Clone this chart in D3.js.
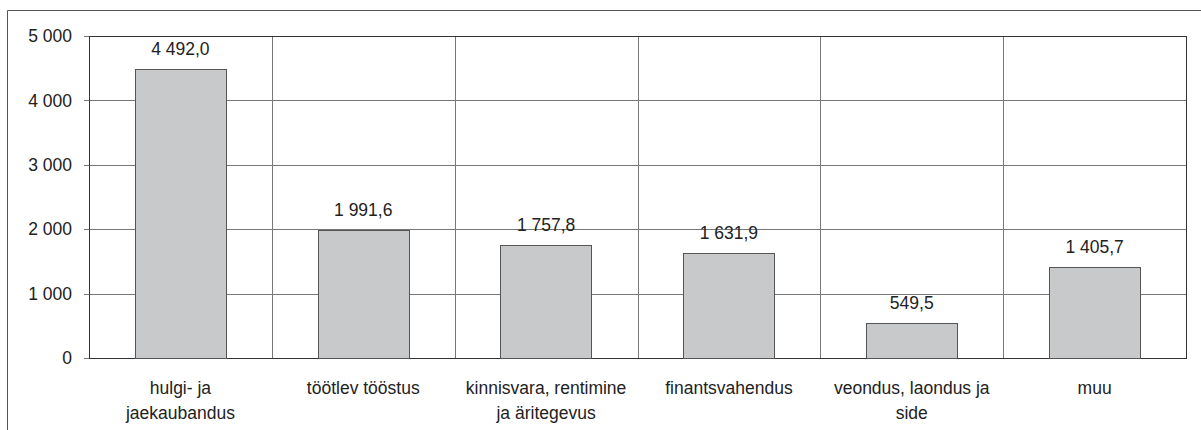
<!DOCTYPE html>
<html>
<head>
<meta charset="utf-8">
<script src="https://d3js.org/d3.v7.min.js"></script>
<style>
    body { margin: 0; background: white; }
    text { font-family: "Liberation Sans", Arial, sans-serif; fill: #222; font-size: 17.5px; }
</style>
</head>
<body>
<script>
    // data
    let categories = [
        ["hulgi- ja", "jaekaubandus"],
        ["töötlev tööstus"],
        ["kinnisvara, rentimine", "ja äritegevus"],
        ["finantsvahendus"],
        ["veondus, laondus ja", "side"],
        ["muu"]
    ];
    let values = [4492.0, 1991.6, 1757.8, 1631.9, 549.5, 1405.7];
    let yTicks = [0, 1000, 2000, 3000, 4000, 5000];

    var width = 1201, height = 430;
    var margin = {top: 36, right: 15, bottom: 72, left: 89};

    let svg = d3.select("body").append("svg")
        .attr("width", width)
        .attr("height", height);

    // outer frame (top + left edge only visible)
    svg.append("line")
        .attr("x1", 7.5).attr("y1", 10.5).attr("x2", width).attr("y2", 10.5)
        .attr("stroke", "#555");
    svg.append("line")
        .attr("x1", 7.5).attr("y1", 10.5).attr("x2", 7.5).attr("y2", height)
        .attr("stroke", "#555");

    let x = d3.scaleBand()
        .domain(d3.range(categories.length))
        .range([margin.left, width - margin.right])
        .paddingInner(0)
        .paddingOuter(0);

    let y = d3.scaleLinear()
        .domain([0, 5000])
        .range([height - margin.bottom, margin.top]);

    let fmt = function(v, dec) {
        let s = d3.format("," + (dec ? ".1f" : "d"))(v);
        return s.replace(/,/g, " ").replace(".", ",");
    };

    let g = svg.append("g");

    // horizontal gridlines
    g.selectAll(".hgrid")
        .data(yTicks)
        .enter()
        .append("line")
        .attr("x1", margin.left - 5)
        .attr("x2", width - margin.right)
        .attr("y1", d => Math.round(y(d)) + 0.5)
        .attr("y2", d => Math.round(y(d)) + 0.5)
        .attr("stroke", "#777");

    // vertical gridlines at category boundaries
    g.selectAll(".vgrid")
        .data(d3.range(1, categories.length))
        .enter()
        .append("line")
        .attr("x1", d => Math.round(x(d)) + 0.5)
        .attr("x2", d => Math.round(x(d)) + 0.5)
        .attr("y1", margin.top)
        .attr("y2", height - margin.bottom)
        .attr("stroke", "#777");

    // plot border
    g.append("rect")
        .attr("x", margin.left + 0.5)
        .attr("y", margin.top + 0.5)
        .attr("width", width - margin.right - margin.left)
        .attr("height", height - margin.bottom - margin.top)
        .attr("fill", "none")
        .attr("stroke", "#333");

    // tick labels
    g.selectAll(".ytick")
        .data(yTicks)
        .enter()
        .append("text")
        .attr("x", margin.left - 17)
        .attr("y", d => y(d))
        .attr("dy", "0.35em")
        .attr("text-anchor", "end")
        .text(d => fmt(d, false));

    // bars
    let bw = x.bandwidth() / 2;
    g.selectAll(".bar")
        .data(values)
        .enter()
        .append("rect")
        .attr("x", (d, i) => Math.round(x(i) + x.bandwidth() / 4) + 0.5)
        .attr("y", d => Math.round(y(d)) + 0.5)
        .attr("width", Math.round(bw))
        .attr("height", d => Math.round(y(0)) - Math.round(y(d)))
        .attr("fill", "#c8c9cb")
        .attr("stroke", "#555");

    // value labels
    g.selectAll(".val")
        .data(values)
        .enter()
        .append("text")
        .attr("x", (d, i) => x(i) + x.bandwidth() / 2)
        .attr("y", d => y(d) - 14)
        .attr("text-anchor", "middle")
        .text(d => fmt(d, true));

    // category labels
    let cats = g.selectAll(".cat")
        .data(categories)
        .enter()
        .append("text")
        .attr("text-anchor", "middle")
        .attr("transform", (d, i) => "translate(" + (x(i) + x.bandwidth() / 2) + "," + (y(0) + 36) + ")");

    cats.selectAll("tspan")
        .data(d => d)
        .enter()
        .append("tspan")
        .attr("x", 0)
        .attr("y", (d, i) => i * 25)
        .text(d => d);
</script>
</body>
</html>
